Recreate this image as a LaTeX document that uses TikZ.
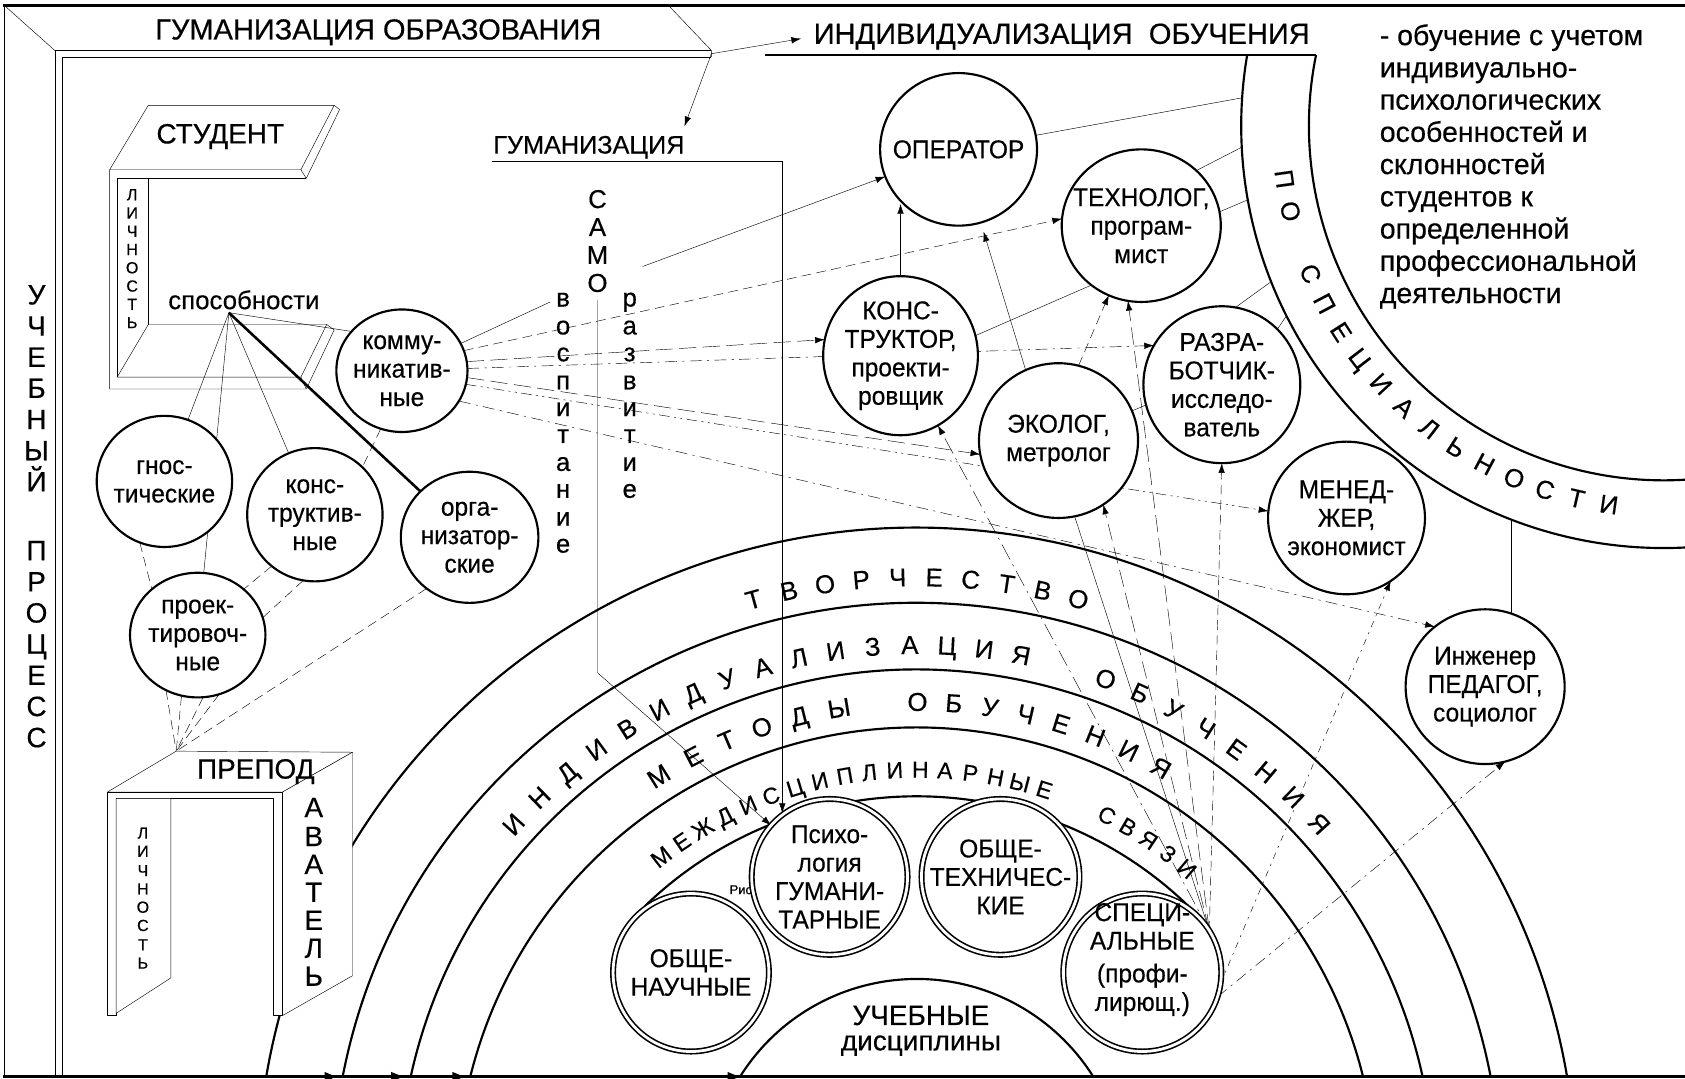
\documentclass[tikz,border=0pt]{standalone}
\usepackage{fontspec}
\setmainfont{Liberation Sans}[FakeBold=0.4]
\newfontfamily\narrowsans{Liberation Sans}[FakeStretch=0.95,FakeBold=0.4]
\usetikzlibrary{shapes.geometric,arrows.meta}
\pgfdeclarelayer{rings}
\pgfdeclarelayer{links}
\pgfsetlayers{rings,links,main}

\begin{document}
\begin{tikzpicture}[x=1pt,y=1pt,line width=1.8pt,line join=round,
  every node/.style={inner sep=0pt,outer sep=0pt},
  fs/.style={font=\fontsize{#1}{#1}\selectfont},
  ntext/.style={font=\narrowsans\fontsize{24}{26.5}\selectfont,align=center},
  role/.style={ellipse,draw,fill=white,line width=2pt},
  disc/.style={ellipse,draw,fill=white,line width=1.5pt,double,double distance=2.6pt},
  arr/.style={-{Latex[length=9pt,width=6pt]}},
  dA/.style={dash pattern=on 9pt off 5pt},
  dL/.style={dash pattern=on 16pt off 6pt},
  dD/.style={dash pattern=on 11pt off 5pt on 2pt off 5pt},
  dDD/.style={dash pattern=on 10pt off 4pt on 2pt off 4pt on 2pt off 4pt},
  dLD/.style={dash pattern=on 16pt off 5pt on 2pt off 5pt},
  dS/.style={dash pattern=on 6pt off 5pt on 2pt off 5pt},
  ring/.style={line width=2pt},
  rl/.style={font=\fontsize{24}{24}\selectfont,text height=17pt,text depth=0pt},
  rs/.style={font=\fontsize{21.5}{21.5}\selectfont,text height=15.4pt,text depth=0pt},
  capl/.style={font=\fontsize{#1}{#1}\selectfont,text height=0.716*#1 pt,text depth=0pt},
  lowl/.style={font=\fontsize{#1}{#1}\selectfont,text height=0.52*#1 pt,text depth=0pt},
]
\useasboundingbox (0,0) rectangle (1568,1004);
\coordinate (C) at (853,-101);
\coordinate (S) at (1548,887);

% ---------- background, concentric rings and their lettering ----------
\begin{pgfonlayer}{rings}
\fill[white] (0,0) rectangle (1568,1004);
\draw[ring] (C) ++(170.34:614) arc[start angle=170.34,end angle=9.66,radius=614];
\draw[ring] (C) ++(169.09:544) arc[start angle=169.09,end angle=10.91,radius=544];
\draw[ring] (C) ++(167.66:482) arc[start angle=167.66,end angle=12.34,radius=482];
\draw[ring] (C) ++(166.07:428) arc[start angle=166.07,end angle=13.93,radius=428];
\draw[ring] (C) ++(134:364) arc[start angle=134,end angle=46,radius=364];
\draw[ring] (C) ++(147.93:194) arc[start angle=147.93,end angle=32.07,radius=194];
% band "по специальности"
\draw[ring] (S) ++(170.33:393) arc[start angle=170.33,end angle=274,radius=393];
\draw[ring] (S) ++(168.46:330) arc[start angle=168.46,end angle=275,radius=330];

\foreach \a/\l [count=\i] in {105.5/Т,102.07/В,98.64/О,95.21/Р,91.78/Ч,88.35/Е,84.92/С,81.49/Т,78.06/В,74.63/О}
  \node[rl,rotate=\a-90] (tv\i) at ([shift={(\a:568)}]C) {\l};
\foreach \a/\l [count=\i] in {138.0/И,134.06/Н,130.12/Д,126.18/И,122.24/В,118.3/И,114.36/Д,110.42/У,106.48/А,102.54/Л,98.6/И,94.66/З,90.72/А,86.78/Ц,82.84/И,78.9/Я,69.6/О,65.67/Б,61.74/У,57.81/Ч,53.88/Е,49.95/Н,46.02/И,42.1/Я}
  \node[rl,rotate=\a-90] (iv\i) at ([shift={(\a:505)}]C) {\l};
\foreach \a/\l [count=\i] in {122.1/М,117.4/Е,113.0/Т,108.6/О,104.0/Д,99.2/Ы,89.9/О,85.6/Б,81.3/У,77.0/Ч,72.7/Е,68.4/Н,64.1/И,59.8/Я}
  \node[rl,rotate=\a-90] (mo\i) at ([shift={(\a:452)}]C) {\l};
\foreach \a/\l [count=\i] in {127.7/М,124.2/Е,120.8/Ж,117.3/Д,113.8/И,110.4/С,106.9/Ц,103.4/И,99.9/П,96.5/Л,93.0/И,89.5/Н,86.1/А,82.6/Р,79.1/Н,75.7/Ы,72.2/Е,62.9/С,59.6/В,56.3/Я,53.0/З,49.7/И}
  \node[rs,rotate=\a-90] (ms\i) at ([shift={(\a:389)}]C) {\l};
\foreach \a/\l [count=\i] in {188.0/П,192.92/О,202.76/С,207.68/П,212.6/Е,217.52/Ц,222.44/И,227.36/А,232.28/Л,237.2/Ь,242.12/Н,247.04/О,251.96/С,256.88/Т,261.8/И}
  \node[rl,rotate=\a+90] (ps\i) at ([shift={(\a:356)}]S) {\l};

\node[fs=12,anchor=west] (ris) at (679,176) {Рис.};
\end{pgfonlayer}

% ---------- outer frame ----------
\draw[line width=3pt] (3,999) -- (1568,999);
\draw[line width=3pt] (3,2) -- (1568,2);
\draw (4,2) -- (4,999);
\draw (4,999) -- (51,957);
\draw (51,2) -- (51,957) -- (662,957);
\draw (58,2) -- (58,951) -- (662,951);
\draw (622,999) -- (662,957) -- (662,951);
\draw[line width=2.4pt] (712,953) -- (1224.7,953);
\foreach \x in {313,375,432,688}
  \fill (\x,2) -- (\x-11,6.5) -- (\x-11,-2.5) -- cycle;

\node[fs=27] (hg) at (352,974) {ГУМАНИЗАЦИЯ ОБРАЗОВАНИЯ};
\node[fs=27] (io) at (988,970) {ИНДИВИДУАЛИЗАЦИЯ\ \ ОБУЧЕНИЯ};
\foreach \l/\yy [count=\i] in {У/730,Ч/701,Е/672,Б/643,Н/614,Ы/585,Й/556,П/492,Р/463,О/434,Ц/405,Е/376,С/347,С/318}
  \node[capl=26] (up\i) at (34,\yy) {\l};

\foreach \t/\yy [count=\i] in {{- обучение с учетом}/962,{индивиуально-}/932,{психологических}/902,{особенностей и}/872,{склонностей}/842,{студентов к}/812,{определенной}/782,{профессиональной}/752,{деятельности}/722}
  \node[fs=26.5,anchor=base west] (note\i) at (1284,\yy) {\t};

% ---------- student ----------
\filldraw[fill=white] (138,906) -- (311,906) -- (280,846) -- (102,846) -- cycle;
\draw (311,906) -- (316,902) -- (285,838) -- (280,846);
\draw (109,838) -- (285,838);
\draw (102,846) -- (102,642) -- (285,642) -- (311,697) -- (304,702);
\draw (109,838) -- (109,653);
\draw (138,838) -- (138,702);
\draw (138,702) -- (304,702) -- (280,653) -- (109,653) -- cycle;
\draw (280,653) -- (285,642);
\node[fs=26] (stud) at (205,877) {СТУДЕНТ};
\foreach \l/\yy [count=\i] in {Л/823,И/806,Ч/789,Н/772,О/755,С/738,Т/721,Ь/704}
  \node[capl=15] (sl\i) at (123,\yy) {\l};
\node[fs=24] (abil) at (227,725) {способности};
\coordinate (fan) at (213,713);

% ---------- teacher ----------
\filldraw[fill=white] (100,267) -- (164,305) -- (328,304) -- (263,267) -- cycle;
\filldraw[fill=white] (263,267) -- (328,304) -- (328,96) -- (263,59) -- cycle;
\filldraw[fill=white] (100,267) -- (100,59) -- (108,59) -- (108,261) -- (254,261) -- (254,59) -- (263,59) -- (263,267) -- cycle;
\filldraw[fill=white] (108,261) -- (159,261) -- (159,94) -- (108,61) -- cycle;
\node[fs=26] (prep) at (238,286) {ПРЕПОД};
\foreach \l/\yy [count=\i] in {А/253,В/226,А/200,Т/174,Е/148,Л/122,Ь/96}
  \node[capl=26] (tl\i) at (292,\yy) {\l};
\foreach \l/\yy [count=\i] in {Л/229,И/212,Ч/194,Н/177,О/160,С/143,Т/125,Ь/108}
  \node[capl=15] (pl\i) at (133,\yy) {\l};
\coordinate (tc) at (164,305);

% ---------- humanisation column ----------
\node[fs=23.5] (gum) at (548,867) {ГУМАНИЗАЦИЯ};
\coordinate (gl) at (458,854);
\coordinate (gr) at (728,854);
\foreach \l/\yy [count=\i] in {С/819,А/793,М/767,О/741}
  \node[capl=24] (sa\i) at (556,\yy) {\l};
\foreach \l/\yy [count=\i] in {в/725,о/699,с/674,п/648,и/623,т/598,а/572,н/547,и/521,е/496}
  \node[lowl=24] (vo\i) at (524,\yy) {\l};
\foreach \l/\yy [count=\i] in {р/725,а/699,з/674,в/648,и/623,т/598,и/572,е/547}
  \node[lowl=24] (ra\i) at (586,\yy) {\l};
\coordinate (vosp) at (512,723);
\coordinate (samo) at (598,756);
\coordinate (samotop) at (556,725);
\coordinate (samobend) at (556,378);
\coordinate (corner) at (662,954);

% ---------- abilities ----------
\node[role,minimum width=122pt,minimum height=114pt,label={[ntext]center:{комму-\\никатив-\\ные}}] (komm) at (374,659) {};
\node[role,minimum width=126pt,minimum height=122pt,label={[ntext]center:{гнос-\\тические}}] (gnos) at (153,556) {};
\node[role,minimum width=126pt,minimum height=124pt,label={[ntext]center:{конс-\\труктив-\\ные}}] (konstr) at (293,525) {};
\node[role,minimum width=128pt,minimum height=122pt,label={[ntext]center:{орга-\\низатор-\\ские}}] (org) at (437,504) {};
\node[role,minimum width=126pt,minimum height=116pt,label={[ntext]center:{проек-\\тировоч-\\ные}}] (proekt) at (184,413) {};

% ---------- professions ----------
\node[role,minimum width=146pt,minimum height=142pt,label={[ntext]center:{ОПЕРАТОР}}] (oper) at (892,865) {};
\node[role,minimum width=148pt,minimum height=142pt,label={[ntext]center:{ТЕХНОЛОГ,\\програм-\\мист}}] (tech) at (1062,794) {};
\node[role,minimum width=144pt,minimum height=148pt,label={[ntext]center:{КОНС-\\ТРУКТОР,\\проекти-\\ровщик}}] (kon) at (838,673) {};
\node[role,minimum width=148pt,minimum height=144pt,label={[ntext]center:{ЭКОЛОГ,\\метролог}}] (eco) at (985,594) {};
\node[role,minimum width=146pt,minimum height=146pt,label={[ntext]center:{РАЗРА-\\БОТЧИК-\\исследо-\\ватель}}] (razr) at (1137,646) {};
\node[role,minimum width=146pt,minimum height=142pt,label={[ntext]center:{МЕНЕД-\\ЖЕР,\\экономист}}] (man) at (1253,522) {};
\node[role,minimum width=148pt,minimum height=144pt,label={[ntext]center:{Инженер\\ПЕДАГОГ,\\социолог}}] (ing) at (1382,365) {};

% ---------- disciplines ----------
\node[disc,minimum width=145pt,minimum height=147pt,label={[ntext]center:{ОБЩЕ-\\НАУЧНЫЕ}}] (obn) at (643,99) {};
\node[disc,minimum width=145pt,minimum height=145pt,label={[ntext]center:{Психо-\\логия\\ГУМАНИ-\\ТАРНЫЕ}}] (psy) at (772,188) {};
\node[disc,minimum width=147pt,minimum height=145pt,label={[ntext]center:{ОБЩЕ-\\ТЕХНИЧЕС-\\КИЕ}}] (obt) at (931,188) {};
\node[disc,minimum width=147pt,minimum height=147pt,label={[ntext,yshift=12pt]center:{СПЕЦИ-\\АЛЬНЫЕ\\[4pt](профи-\\лирющ.)}}] (spec) at (1063,99) {};
\node[fs=26] (uch) at (857,59) {УЧЕБНЫЕ};
\node[fs=26] (dis) at (857,31) {дисциплины};

% ---------- connectors ----------
\begin{pgfonlayer}{links}
% top corner
\draw[arr,shorten >=12pt] (corner) -- (io.west);
\draw[arr] (corner) -- ([yshift=9pt]gum.north east);
\draw (gl) -- (gr);
\draw[arr] (gr) -- (gr |- psy.125);
\draw[arr] (samotop) -- (samobend) -- (psy);
% abilities
\draw (fan) -- (gnos);
\draw (fan) -- (proekt);
\draw (fan) -- (konstr);
\draw[line width=2.4pt] (fan) -- (org);
\draw (fan) -- (komm.142);
\draw (komm) -- (vosp);
\draw[dA] (gnos.-112) -- (proekt.135);
\draw[dA] (konstr.-130) -- (proekt.45);
\draw[dA] (konstr.-100) -- (proekt.15);
\draw[dA] (komm.-110) -- (konstr.45);
\foreach \a in {-120,-105,-85,-70}
  \draw[dA] (proekt.\a) -- (tc);
\draw[dA] (org.-130) -- (tc);
% from communicative abilities to professions
\draw[dA,arr] (komm.18) -- (tech.175);
\draw[dL,arr] (komm.8) -- (kon.168);
\draw[dD,arr] (komm.2) -- (razr.150);
\draw[dL,arr] (komm.-6) -- (eco.190);
\draw[dDD,arr] (komm.-12) -- (man.175);
\draw[dD,arr] (komm.-28) -- (ing.130);
% professions
\draw[arr] (samo) -- (oper);
\draw[arr] (kon.north) -- (kon.north |- oper.-135);
\draw (kon.15) -- (tech.230);
\draw[arr,shorten >=9pt] (eco.115) -- (oper);
\draw (eco.22) -- (razr.195);
\draw (eco.-78) -- (spec.32);
\draw[dA,arr] (eco.75) -- (tech.-115);
% links to the speciality band
\coordinate (b1) at (1156,913);
\coordinate (b2) at (1155.5,867);
\coordinate (b3) at (1161,818);
\coordinate (b4) at (1183,742);
\coordinate (b5) at (1197,710);
\coordinate (b6) at (1408,520);
\draw (oper) -- (b1);
\draw (tech.45) -- (b2);
\draw (tech.10) -- (b3);
\draw (razr.80) -- (b4);
\draw (razr.45) -- (b5);
\draw (ing.70) -- (ing.70 |- b6);
% from special disciplines
\draw[dLD,arr] (spec.32) -- (kon);
\draw[dL,arr] (spec.32) -- (eco.-55);
\draw[dL,arr] (spec.32) -- (tech.-100);
\draw[dA,arr] (spec.32) -- (razr.south);
\draw[dS,arr] (spec.-8) -- (man.-55);
\draw[dD,arr] (spec.-18) -- (ing.-75);
\end{pgfonlayer}
\end{tikzpicture}
\end{document}
